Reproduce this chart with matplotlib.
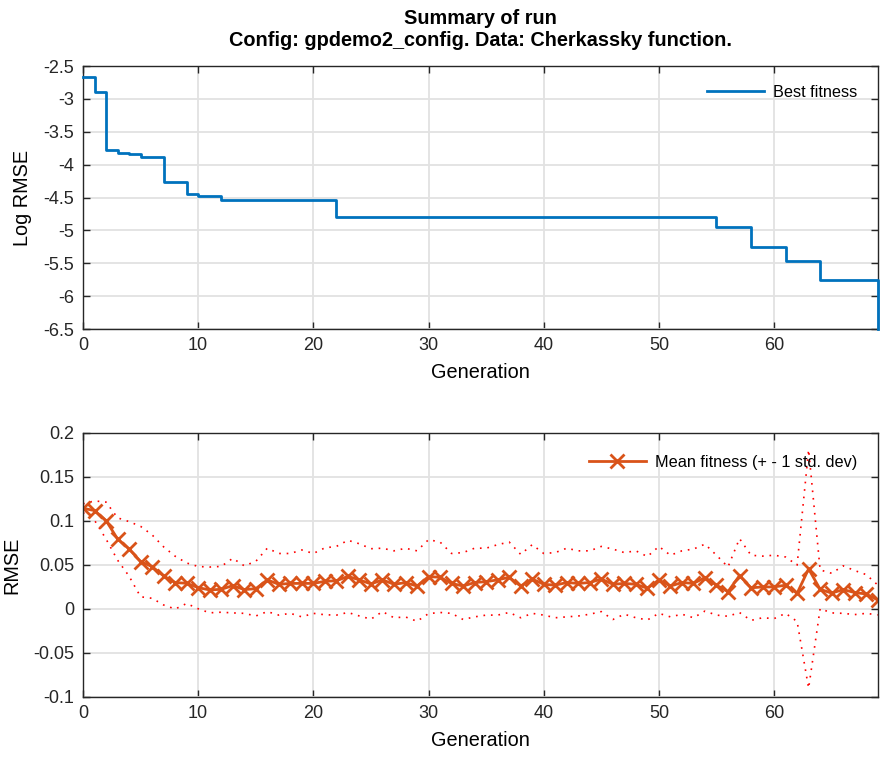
import numpy as np
import matplotlib
matplotlib.use('Agg')
import matplotlib.pyplot as plt
from matplotlib.ticker import FuncFormatter

plt.rcParams['font.family'] = ['Liberation Sans', 'DejaVu Sans']
plt.rcParams['axes.unicode_minus'] = False

# generations 0..69
gens = np.arange(70)

# best fitness (log RMSE), step plot
best_fitness = ([-2.67, -2.89, -3.78, -3.82, -3.84, -3.88, -3.89, -4.27, -4.27, -4.44,
                 -4.47, -4.47] + [-4.53] * 10 + [-4.80] * 33 + [-4.95] * 3 + [-5.26] * 3
                + [-5.46] * 3 + [-5.75] * 5 + [-6.5])

# mean fitness and its std
mean_fitness = [0.1144, 0.1117, 0.1004, 0.0795, 0.0682, 0.0538, 0.0481, 0.0375, 0.0299, 0.0292,
                0.0242, 0.0216, 0.0223, 0.0265, 0.0220, 0.0230, 0.0330, 0.0280, 0.0290, 0.0290,
                0.0290, 0.0314, 0.0320, 0.0370, 0.0330, 0.0284, 0.0330, 0.0280, 0.0299, 0.0260,
                0.0367, 0.0360, 0.0290, 0.0260, 0.0300, 0.0310, 0.0330, 0.0360, 0.0260, 0.0340,
                0.0280, 0.0270, 0.0300, 0.0290, 0.0300, 0.0340, 0.0280, 0.0290, 0.0280, 0.0235,
                0.0330, 0.0260, 0.0300, 0.0290, 0.0356, 0.0270, 0.0197, 0.0379, 0.0240, 0.0250,
                0.0250, 0.0270, 0.0178, 0.0455, 0.0223, 0.0180, 0.0220, 0.0186, 0.0170, 0.0102]
std_fitness = [0.005, 0.011, 0.021, 0.024, 0.031, 0.040, 0.036, 0.033, 0.030, 0.023,
               0.024, 0.026, 0.026, 0.031, 0.027, 0.031, 0.036, 0.035, 0.034, 0.038,
               0.034, 0.038, 0.039, 0.041, 0.041, 0.040, 0.036, 0.038, 0.039, 0.040,
               0.042, 0.040, 0.034, 0.038, 0.039, 0.038, 0.040, 0.040, 0.036, 0.039,
               0.035, 0.037, 0.039, 0.037, 0.036, 0.037, 0.040, 0.035, 0.038, 0.036,
               0.038, 0.035, 0.036, 0.039, 0.038, 0.034, 0.028, 0.042, 0.037, 0.035,
               0.036, 0.032, 0.032, 0.1355, 0.022, 0.0225, 0.027, 0.025, 0.022, 0.017]

mean_fitness = np.array(mean_fitness)
std_fitness = np.array(std_fitness)

fmt = FuncFormatter(lambda v, p: '%g' % round(v, 4))


def style_axes(ax):
    ax.grid(True, color='#e2e2e2', lw=1.3)
    ax.set_axisbelow(True)
    ax.tick_params(direction='in', top=True, right=True, labelsize=13,
                   length=5, width=1, colors='#262626')
    ax.tick_params(axis='x', pad=5.5)
    ax.tick_params(axis='y', pad=6.5)
    for s in ax.spines.values():
        s.set_color('#262626')
        s.set_linewidth(1.0)
    ax.xaxis.set_major_formatter(fmt)
    ax.yaxis.set_major_formatter(fmt)
    ax.set_xlabel('Generation', fontsize=14.3, labelpad=7)


fig = plt.figure(figsize=(8.84, 7.59), dpi=100)

ax1 = fig.add_axes([0.0939, 0.5665, 0.899, 0.3465])
ax1.step(gens, best_fitness, where='post', color='#0072BD', lw=2,
         label='Best fitness', clip_on=False, zorder=3)
ax1.set_xlim(0, 69)
ax1.set_ylim(-6.5, -2.5)
ax1.set_yticks(np.arange(-6.5, -2.49, 0.5))
ax1.set_xticks(np.arange(0, 61, 10))
ax1.set_ylabel('Log RMSE', fontsize=14.3, labelpad=8)
style_axes(ax1)
ax1.legend(loc='upper right', bbox_to_anchor=(0.982, 0.952), borderaxespad=0,
           frameon=False, fontsize=11.7, handlelength=3.5, handletextpad=0.55)
title_x = 0.0939 + 0.899 / 2
fig.text(title_x, 1 - 24.5 / 759, 'Summary of run', ha='center', va='baseline',
         fontsize=14.3, fontweight='bold')
fig.text(title_x, 1 - 45.5 / 759, 'Config: gpdemo2_config. Data: Cherkassky function.',
         ha='center', va='baseline', fontsize=14.3, fontweight='bold')

ax2 = fig.add_axes([0.0939, 0.0817, 0.899, 0.348])
ax2.plot(gens, mean_fitness + std_fitness, color='#FF0000', lw=1.2, ls=(0, (1, 3.5)))
ax2.plot(gens, mean_fitness - std_fitness, color='#FF0000', lw=1.2, ls=(0, (1, 3.5)))
ax2.plot(gens, mean_fitness, '-x', color='#D95319', lw=2, ms=10, mew=2,
         label='Mean fitness (+ - 1 std. dev)')
ax2.set_xlim(0, 69)
ax2.set_ylim(-0.1, 0.2)
ax2.set_yticks(np.arange(-0.1, 0.201, 0.05))
ax2.set_xticks(np.arange(0, 61, 10))
ax2.set_ylabel('RMSE', fontsize=14.3, labelpad=8)
style_axes(ax2)
ax2.legend(loc='upper right', bbox_to_anchor=(0.982, 0.941), borderaxespad=0,
           frameon=False, fontsize=11.7, handlelength=3.5, handletextpad=0.55)

fig.savefig('out.png', dpi=100)
